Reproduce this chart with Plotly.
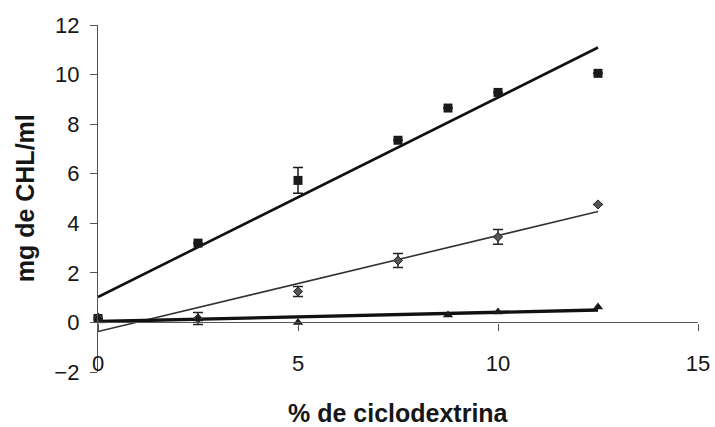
import numpy as np
import plotly.graph_objects as go

# % de ciclodextrina and measured mg de CHL/ml for three series
x_sq = [0, 2.5, 5, 7.5, 8.75, 10, 12.5]
y_sq = [0.16, 3.2, 5.73, 7.35, 8.65, 9.28, 10.05]
e_sq = [np.nan, np.nan, 0.52, np.nan, np.nan, np.nan, np.nan]

x_di = [0, 2.5, 5, 7.5, 10, 12.5]
y_di = [0.2, 0.16, 1.25, 2.5, 3.45, 4.76]
e_di = [np.nan, 0.24, 0.2, 0.28, 0.3, np.nan]

x_tr = [0, 2.5, 5, 8.75, 10, 12.5]
y_tr = [0.18, 0.14, 0.0, 0.3, 0.42, 0.62]

x_ticks = [0, 5, 10, 15]
y_ticks = [-2, 0, 2, 4, 6, 8, 10, 12]

FONT = "Liberation Sans, Arial, sans-serif"
INK = "#161616"


def trend(xs, ys):
    """Least-squares line over the data range."""
    k, b = np.polyfit(xs, ys, 1)
    xx = np.array([min(xs), max(xs)])
    return xx, k * xx + b


fig = go.Figure()

# linear trend lines
for xs, ys, w, c in [(x_sq, y_sq, 2.6, "#111"),
                     (x_di, y_di, 1.6, "#333"),
                     (x_tr, y_tr, 3.4, "#111")]:
    tx, ty = trend(xs, ys)
    fig.add_trace(go.Scatter(x=tx, y=ty, mode="lines",
                             line=dict(color=c, width=w),
                             showlegend=False, hoverinfo="skip",
                             cliponaxis=False))

# data points
fig.add_trace(go.Scatter(
    x=x_sq, y=y_sq, mode="markers",
    marker=dict(symbol="square", size=9, color="#1a1a1a"),
    error_y=dict(type="data", array=e_sq, color="#1a1a1a", thickness=1.5, width=5),
    showlegend=False, cliponaxis=False))
fig.add_trace(go.Scatter(
    x=x_di, y=y_di, mode="markers",
    marker=dict(symbol="diamond", size=7, color="#555",
                line=dict(color="#222", width=1)),
    error_y=dict(type="data", array=e_di, color="#222", thickness=1.5, width=5),
    showlegend=False, cliponaxis=False))
fig.add_trace(go.Scatter(
    x=x_tr, y=y_tr, mode="markers",
    marker=dict(symbol="triangle-up", size=9, color="#1a1a1a"),
    showlegend=False, cliponaxis=False))

fig.update_layout(
    width=715, height=427,
    margin=dict(l=98, r=17, t=25, b=55, autoexpand=False),
    paper_bgcolor="white", plot_bgcolor="white",
    font=dict(family=FONT, size=22, color=INK),
    xaxis=dict(range=[0, 15], tickvals=x_ticks, ticks="outside", ticklen=7,
               tickcolor="#555", showline=True, linecolor="#555", linewidth=1.3,
               showgrid=False, zeroline=False, automargin=False,
               anchor="free", position=2 / 14, ticklabelstandoff=14,
               tickfont=dict(size=22, color=INK)),
    yaxis=dict(range=[-2, 12], tickvals=y_ticks, ticks="outside", ticklen=7,
               tickcolor="#555", showline=True, linecolor="#555", linewidth=1.3,
               showgrid=False, zeroline=False, automargin=False,
               ticklabelstandoff=6, tickfont=dict(size=22, color=INK)),
    annotations=[
        dict(text="<b>% de ciclodextrina</b>", xref="paper", yref="paper",
             x=0.5, y=-0.118, xanchor="center", yanchor="middle",
             showarrow=False, font=dict(size=25, color=INK)),
        dict(text="<b>mg de CHL/ml</b>", xref="paper", yref="paper",
             x=-0.122, y=0.5, xanchor="center", yanchor="middle",
             textangle=-90, showarrow=False, font=dict(size=25, color=INK)),
    ],
)

fig.write_html("out.html")
